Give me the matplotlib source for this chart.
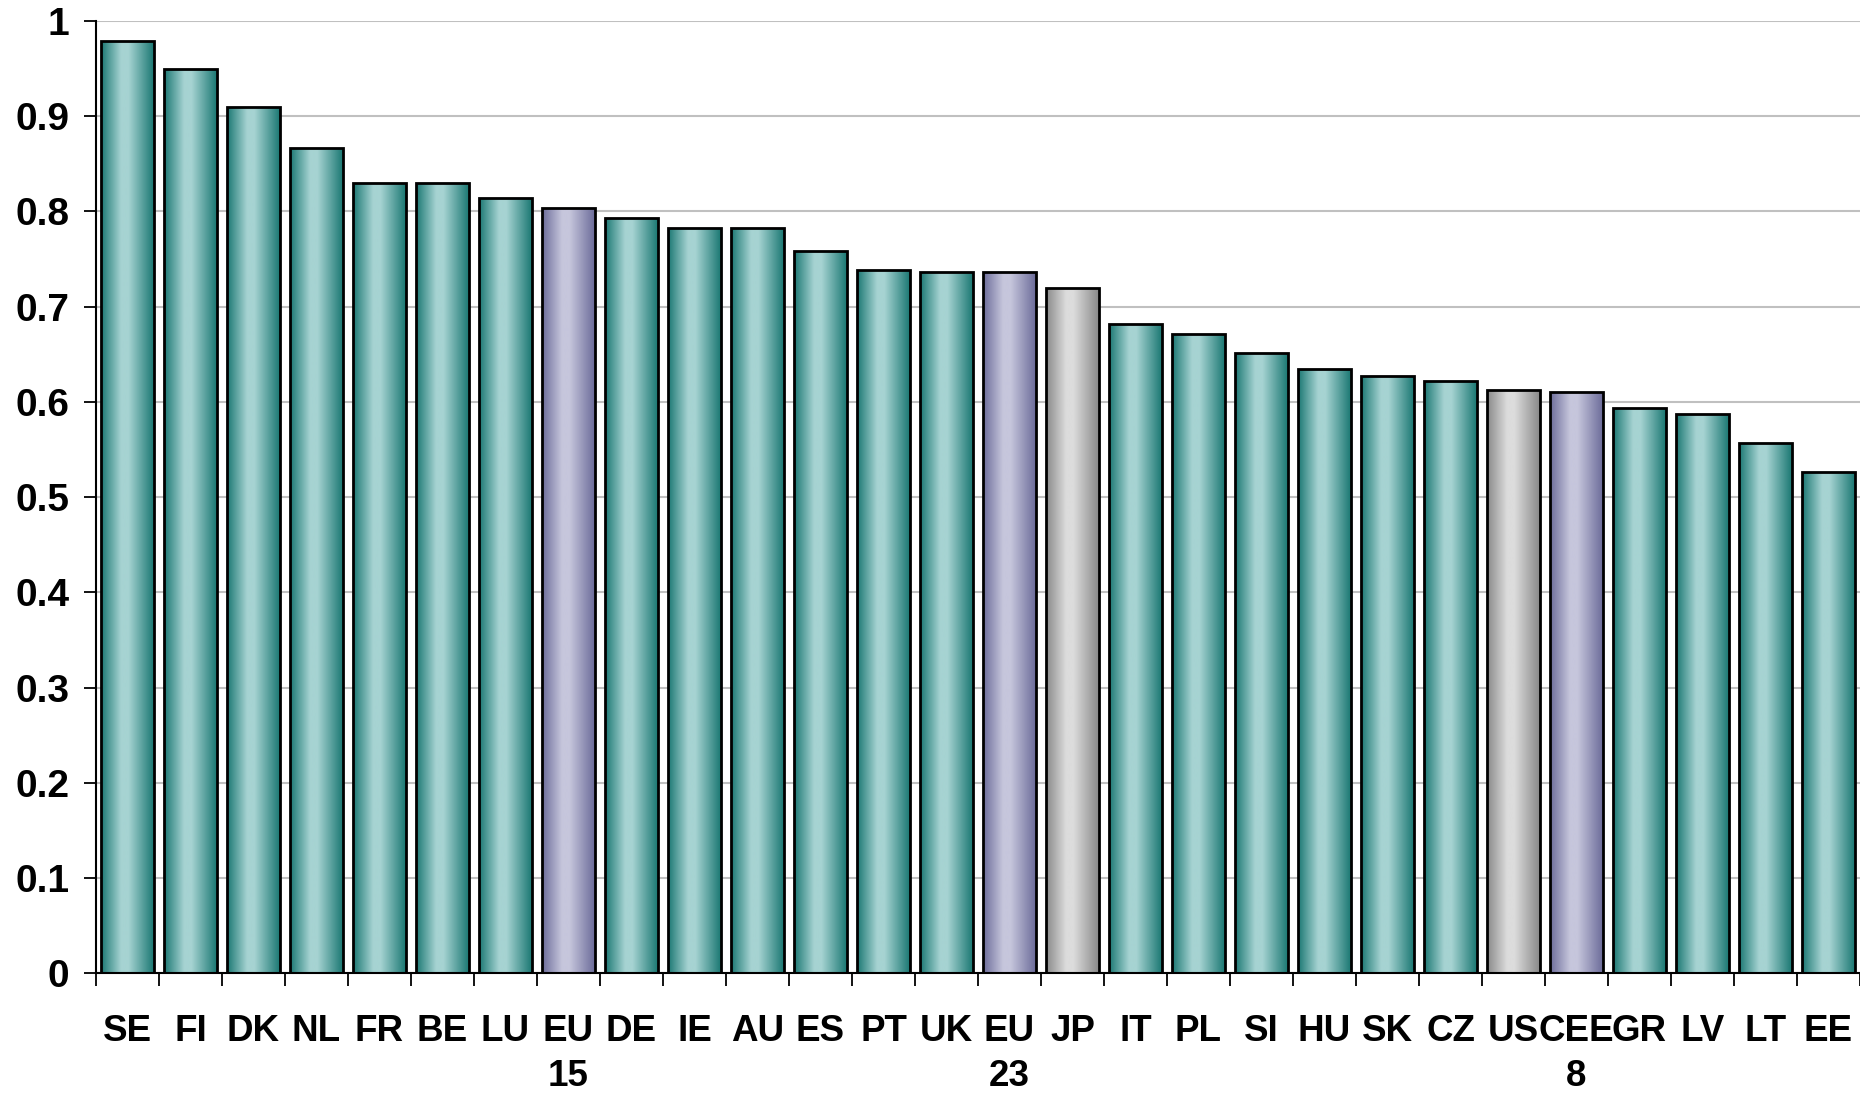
import numpy as np
import matplotlib.pyplot as plt
from matplotlib.colors import LinearSegmentedColormap

# Country / group codes and scores
labels = ['SE', 'FI', 'DK', 'NL', 'FR', 'BE', 'LU', 'EU\n15', 'DE', 'IE', 'AU', 'ES',
          'PT', 'UK', 'EU\n23', 'JP', 'IT', 'PL', 'SI', 'HU', 'SK', 'CZ', 'US',
          'CEE\n8', 'GR', 'LV', 'LT', 'EE']
values = [0.979, 0.949, 0.910, 0.867, 0.830, 0.830, 0.814, 0.804, 0.793, 0.783, 0.783,
          0.758, 0.738, 0.736, 0.736, 0.719, 0.682, 0.671, 0.651, 0.635, 0.627, 0.622,
          0.612, 0.610, 0.594, 0.587, 0.557, 0.526]
# 'c' = country, 'g' = EU aggregate, 'o' = other economy
groups = ['c', 'c', 'c', 'c', 'c', 'c', 'c', 'g', 'c', 'c', 'c', 'c',
          'c', 'c', 'g', 'o', 'c', 'c', 'c', 'c', 'c', 'c', 'o',
          'g', 'c', 'c', 'c', 'c']

# Horizontal shading: dark edges, light band a bit left of centre
shades = {
    'c': ('#1b7873', '#a6d3d2'),
    'g': ('#6c6c9a', '#c6c6dc'),
    'o': ('#898989', '#dcdcdc'),
}
cmaps = {k: LinearSegmentedColormap.from_list(
    k, [(0.0, d), (0.38, l), (0.52, l), (1.0, d)]) for k, (d, l) in shades.items()}
ramp = np.linspace(0, 1, 256).reshape(1, -1)

plt.rcParams['font.family'] = ['Liberation Sans Narrow', 'Liberation Sans', 'DejaVu Sans']
plt.rcParams['font.weight'] = 'bold'

fig = plt.figure(figsize=(18.6, 10.95), dpi=100)
ax = fig.add_axes([0.0516, 0.111, 0.9484, 0.870])

x = np.arange(len(labels))
width = 0.83
bars = ax.bar(x, values, width=width, facecolor='none', edgecolor='black',
              linewidth=2.0, zorder=3)
for b, g in zip(bars, groups):
    x0, w, h = b.get_x(), b.get_width(), b.get_height()
    im = ax.imshow(ramp, cmap=cmaps[g], aspect='auto', extent=(x0, x0 + w, 0, h),
                   zorder=2, interpolation='bilinear')
    im.set_clip_path(b)

ax.set_xlim(-0.5, len(labels) - 0.5)
ax.set_ylim(0, 1)
ax.set_yticks(np.arange(0, 1.01, 0.1))
ax.set_yticklabels(['0', '0.1', '0.2', '0.3', '0.4', '0.5', '0.6', '0.7', '0.8', '0.9', '1'],
                   fontsize=28, fontweight='bold')
ax.grid(axis='y', color='#c0c0c0', linewidth=1.5, zorder=0)

ax.set_xticks(x)
ax.set_xticklabels(labels, fontsize=26.5, fontweight='bold', linespacing=1.38, va='top')
ax.tick_params(axis='x', which='major', length=0, pad=29)
ax.set_xticks(np.arange(-0.5, len(labels), 1.0), minor=True)
ax.tick_params(axis='x', which='minor', length=9, width=1.3, direction='out')
ax.tick_params(axis='y', length=9, width=1.3, direction='out', pad=10)

for s in ['top', 'right']:
    ax.spines[s].set_visible(False)
for s in ['left', 'bottom']:
    ax.spines[s].set_linewidth(1.5)
    ax.spines[s].set_zorder(4)

fig.savefig('out.png', dpi=100)
